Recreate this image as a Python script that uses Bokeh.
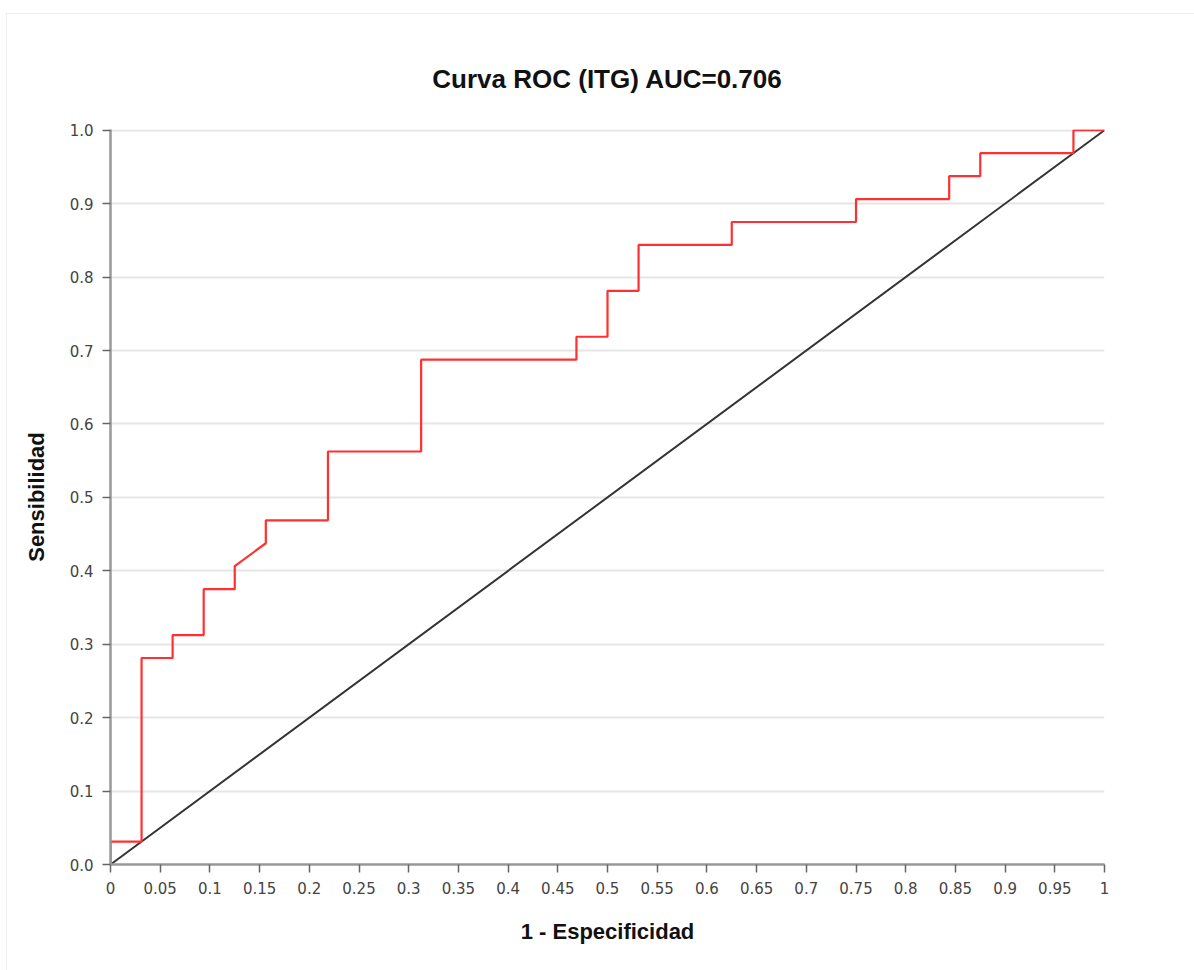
from bokeh.plotting import figure
from bokeh.models import Range1d, FixedTicker
from bokeh.embed import file_html
from bokeh.resources import INLINE

# ROC curve points (1 - specificity, sensitivity)
fpr = [0.0, 0.0, 0.03125, 0.03125, 0.0625, 0.0625, 0.09375, 0.09375, 0.125, 0.125,
       0.15625, 0.15625, 0.21875, 0.21875, 0.3125, 0.3125, 0.46875, 0.46875, 0.5, 0.5,
       0.53125, 0.53125, 0.625, 0.625, 0.75, 0.75, 0.84375, 0.84375, 0.875, 0.875,
       0.96875, 0.96875, 1.0]
tpr = [0.0, 0.03125, 0.03125, 0.28125, 0.28125, 0.3125, 0.3125, 0.375, 0.375, 0.40625,
       0.4375, 0.46875, 0.46875, 0.5625, 0.5625, 0.6875, 0.6875, 0.71875, 0.71875, 0.78125,
       0.78125, 0.84375, 0.84375, 0.875, 0.875, 0.90625, 0.90625, 0.9375, 0.9375, 0.96875,
       0.96875, 1.0, 1.0]

diag_x = [0.0, 1.0]
diag_y = [0.0, 1.0]

x_ticks = [0, 0.05, 0.1, 0.15, 0.2, 0.25, 0.3, 0.35, 0.4, 0.45, 0.5,
           0.55, 0.6, 0.65, 0.7, 0.75, 0.8, 0.85, 0.9, 0.95, 1]
x_tick_labels = ["0", "0.05", "0.1", "0.15", "0.2", "0.25", "0.3", "0.35", "0.4", "0.45", "0.5",
                 "0.55", "0.6", "0.65", "0.7", "0.75", "0.8", "0.85", "0.9", "0.95", "1"]
y_ticks = [0, 0.1, 0.2, 0.3, 0.4, 0.5, 0.6, 0.7, 0.8, 0.9, 1.0]
y_tick_labels = ["0.0", "0.1", "0.2", "0.3", "0.4", "0.5", "0.6", "0.7", "0.8", "0.9", "1.0"]

title_text = "Curva ROC (ITG) AUC=0.706"
x_label = "1 - Especificidad"
y_label = "Sensibilidad"

p = figure(width=1190, height=960, output_backend="svg", toolbar_location=None,
           x_range=Range1d(0, 1), y_range=Range1d(0, 1.001),
           min_border_left=103, min_border_right=93, min_border_top=115, min_border_bottom=110,
           title=title_text)
p.margin = (13, 0, 0, 6)
p.styles = {"border": "1px solid #eeeeee"}

p.outline_line_color = None
p.background_fill_color = "white"
p.border_fill_color = "white"

p.title.align = "center"
p.title.text_font = "Liberation Sans"
p.title.text_font_style = "bold"
p.title.text_font_size = "26px"
p.title.text_color = "#111111"
p.title.standoff = 72

p.line(diag_x, diag_y, line_color="#333333", line_width=2)
p.line(fpr, tpr, line_color="#ff3030", line_width=2.2)

p.xaxis.ticker = FixedTicker(ticks=x_ticks)
p.xaxis.major_label_overrides = {t: l for t, l in zip(x_ticks, x_tick_labels)}
p.yaxis.ticker = FixedTicker(ticks=y_ticks)
p.yaxis.major_label_overrides = {t: l for t, l in zip(y_ticks, y_tick_labels)}

for ax in (p.xaxis, p.yaxis):
    ax.axis_line_color = "#999999"
    ax.axis_line_width = 2.5
    ax.major_tick_line_color = "#666666"
    ax.major_tick_line_width = 1.5
    ax.major_tick_out = 8
    ax.major_tick_in = 0
    ax.minor_tick_line_color = None
    ax.major_label_text_font = "DejaVu Sans"
    ax.major_label_text_font_size = "15px"
    ax.major_label_text_color = "#444444"
    ax.axis_label_text_font = "Liberation Sans"
    ax.axis_label_text_font_style = "bold"
    ax.axis_label_text_font_size = "22px"
    ax.axis_label_text_color = "#111111"

p.xaxis.axis_label = x_label
p.yaxis.axis_label = y_label
p.xaxis.major_label_standoff = 9
p.yaxis.major_label_standoff = 9
p.xaxis.axis_label_standoff = 22
p.yaxis.axis_label_standoff = 18

p.xgrid.grid_line_color = None
p.ygrid.grid_line_color = "#e6e6e6"
p.ygrid.grid_line_width = 2

open("out.html", "w").write(file_html(p, INLINE))
